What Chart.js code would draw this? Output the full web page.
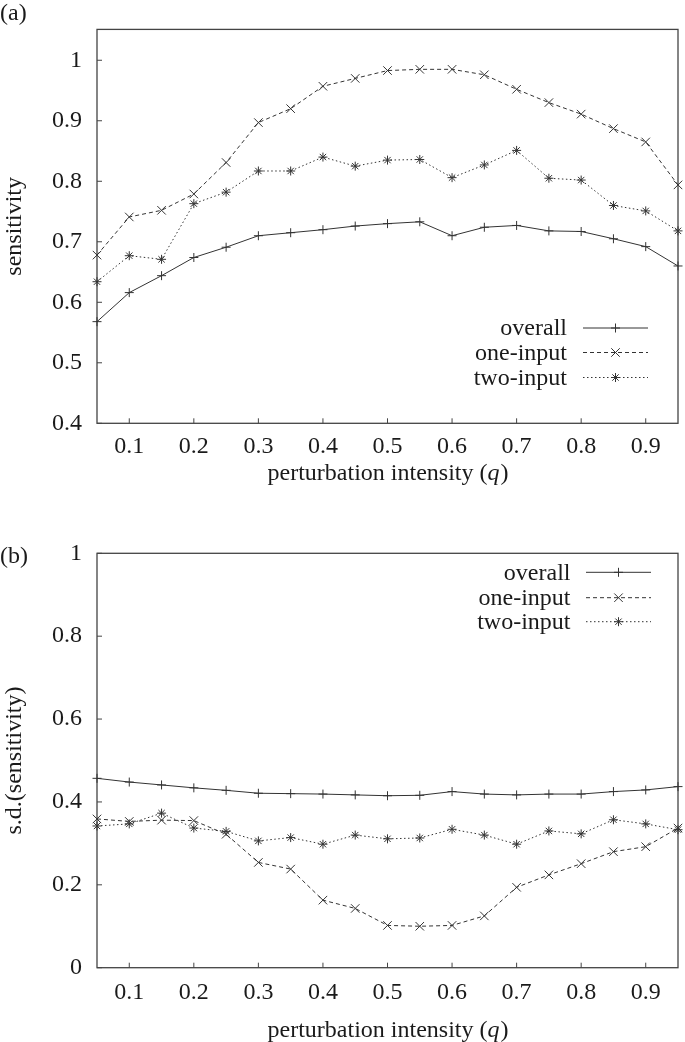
<!DOCTYPE html>
<html>
<head>
<meta charset="utf-8">
<script src="https://cdn.jsdelivr.net/npm/chart.js@4.4.0/dist/chart.umd.min.js"></script>
<style>
  html, body { margin: 0; padding: 0; background: #fff; }
  .panel { position: absolute; left: 0; width: 685px; }
  #wrapA { top: 0; height: 500px; }
  #wrapB { top: 500px; height: 542px; }
</style>
</head>
<body>
<div class="panel" id="wrapA"><canvas id="chartA" width="685" height="500"></canvas></div>
<div class="panel" id="wrapB"><canvas id="chartB" width="685" height="542"></canvas></div>
<script>
// perturbation intensity q
var qValues = [0.05, 0.1, 0.15, 0.2, 0.25, 0.3, 0.35, 0.4, 0.45, 0.5, 0.55, 0.6, 0.65, 0.7, 0.75, 0.8, 0.85, 0.9, 0.95];
var xTicks = [0.1, 0.2, 0.3, 0.4, 0.5, 0.6, 0.7, 0.8, 0.9];
var seriesNames = ["overall", "one-input", "two-input"];

// (a) sensitivity
var overallA = [0.568, 0.616, 0.644, 0.674, 0.691, 0.710, 0.715, 0.720, 0.726, 0.730, 0.733, 0.710, 0.724, 0.727, 0.718, 0.717, 0.705, 0.692, 0.660];
var oneInputA = [0.678, 0.741, 0.752, 0.779, 0.831, 0.897, 0.920, 0.957, 0.970, 0.983, 0.985, 0.985, 0.976, 0.952, 0.930, 0.911, 0.887, 0.865, 0.794];
var twoInputA = [0.634, 0.677, 0.671, 0.763, 0.782, 0.817, 0.817, 0.840, 0.825, 0.835, 0.836, 0.806, 0.827, 0.851, 0.805, 0.802, 0.760, 0.751, 0.718];
var yTicksA = [0.4, 0.5, 0.6, 0.7, 0.8, 0.9, 1];

// (b) s.d.(sensitivity)
var overallB = [0.457, 0.448, 0.441, 0.434, 0.428, 0.421, 0.420, 0.419, 0.417, 0.415, 0.416, 0.425, 0.419, 0.417, 0.419, 0.419, 0.425, 0.429, 0.437];
var oneInputB = [0.359, 0.353, 0.356, 0.355, 0.322, 0.254, 0.238, 0.163, 0.143, 0.102, 0.100, 0.102, 0.125, 0.194, 0.224, 0.251, 0.280, 0.292, 0.337];
var twoInputB = [0.342, 0.347, 0.373, 0.337, 0.329, 0.306, 0.314, 0.298, 0.320, 0.311, 0.313, 0.334, 0.320, 0.298, 0.330, 0.323, 0.357, 0.347, 0.333];
var yTicksB = [0, 0.2, 0.4, 0.6, 0.8, 1];

var FONT = "'Liberation Serif', 'Times New Roman', serif";
var INK = "#1a1a1a";

function pts(ys) {
  return qValues.map(function (q, i) { return { x: q, y: ys[i] }; });
}

var styles = [
  { pointStyle: "cross", radius: 4.5, dash: [] },
  { pointStyle: "crossRot", radius: 6, dash: [4, 3] },
  { pointStyle: "star", radius: 4.5, dash: [1.5, 2.5] }
];

function makeDatasets(a, b, c) {
  return [a, b, c].map(function (ys, i) {
    var s = styles[i];
    return {
      label: seriesNames[i],
      data: pts(ys),
      borderColor: "#333",
      backgroundColor: "#333",
      borderWidth: 1,
      borderDash: s.dash,
      pointStyle: s.pointStyle,
      pointRadius: s.radius,
      pointBorderWidth: 1,
      pointBorderColor: "#333",
      tension: 0,
      clip: false
    };
  });
}

// frame, inward ticks, panel tag, x title, inner legend
var gnuplotLook = {
  id: "gnuplotLook",
  beforeDatasetsDraw: function (chart, args, o) {
    var ctx = chart.ctx, a = chart.chartArea;
    var xs = chart.scales.x, ys = chart.scales.y;
    ctx.save();
    ctx.strokeStyle = "#444";
    ctx.lineWidth = 1.3;
    ctx.strokeRect(a.left, a.top, a.right - a.left, a.bottom - a.top);
    ctx.lineWidth = 1;
    ctx.beginPath();
    xs.ticks.forEach(function (t) {
      var px = xs.getPixelForValue(t.value);
      ctx.moveTo(px, a.bottom); ctx.lineTo(px, a.bottom - 5);
    });
    ys.ticks.forEach(function (t) {
      var py = ys.getPixelForValue(t.value);
      ctx.moveTo(a.left, py); ctx.lineTo(a.left + 5, py);
    });
    ctx.stroke();
    ctx.restore();
  },
  afterDraw: function (chart, args, o) {
    var ctx = chart.ctx, a = chart.chartArea;
    ctx.save();
    ctx.fillStyle = INK;
    ctx.textBaseline = "middle";
    ctx.font = "24px " + FONT;
    ctx.textAlign = "left";
    ctx.fillText(o.tag, 0, o.tagY);

    // x axis title with italic q
    var p1 = "perturbation intensity (", p2 = "q", p3 = ")";
    var up = "24px " + FONT, it = "italic 24px " + FONT;
    ctx.font = up; var w1 = ctx.measureText(p1).width, w3 = ctx.measureText(p3).width;
    ctx.font = it; var w2 = ctx.measureText(p2).width;
    var x0 = (a.left + a.right) / 2 - (w1 + w2 + w3) / 2;
    ctx.font = up; ctx.fillText(p1, x0, o.titleY);
    ctx.font = it; ctx.fillText(p2, x0 + w1, o.titleY);
    ctx.font = up; ctx.fillText(p3, x0 + w1 + w2 + 1, o.titleY);

    // legend
    chart.data.datasets.forEach(function (ds, i) {
      var y = o.legendY[i];
      ctx.font = "24px " + FONT;
      ctx.textAlign = "right";
      ctx.fillStyle = INK;
      ctx.fillText(ds.label, o.legendTextRight, y + 1);
      ctx.strokeStyle = ds.borderColor;
      ctx.lineWidth = 1;
      ctx.setLineDash(ds.borderDash);
      ctx.beginPath();
      ctx.moveTo(o.legendX0, y); ctx.lineTo(o.legendX1, y);
      ctx.stroke();
      ctx.setLineDash([]);
      Chart.helpers.drawPoint(ctx, { pointStyle: ds.pointStyle, radius: ds.pointRadius, rotation: 0, borderWidth: 1 }, (o.legendX0 + o.legendX1) / 2, y);
    });
    ctx.restore();
  }
};

function makeChart(id, datasets, yMin, yMax, yTicks, yTitle, padTop, xAxisH, tickPad, look) {
  return new Chart(document.getElementById(id).getContext("2d"), {
    type: "line",
    data: { datasets: datasets },
    plugins: [gnuplotLook],
    options: {
      responsive: false,
      animation: false,
      layout: { padding: { top: padTop, right: 4.3, left: 0, bottom: 0 } },
      plugins: { legend: { display: false }, tooltip: { enabled: false }, gnuplotLook: look },
      scales: {
        x: {
          type: "linear", min: 0.05, max: 0.95,
          afterBuildTicks: function (s) { s.ticks = xTicks.map(function (v) { return { value: v }; }); },
          afterFit: function (s) { s.height = xAxisH; },
          grid: { display: false, drawTicks: false },
          border: { display: false },
          ticks: { color: INK, font: { family: FONT, size: 24 }, padding: tickPad, maxRotation: 0, autoSkip: false,
            callback: function (v) { return String(+v.toFixed(2)); } }
        },
        y: {
          min: yMin, max: yMax,
          afterBuildTicks: function (s) { s.ticks = yTicks.map(function (v) { return { value: v }; }); },
          afterFit: function (s) { s.width = 97; },
          grid: { display: false, drawTicks: false },
          border: { display: false },
          ticks: { color: INK, font: { family: FONT, size: 24 }, padding: 15,
            callback: function (v) { return String(+v.toFixed(2)); } },
          title: { display: true, text: yTitle, color: INK, font: { family: FONT, size: 24, lineHeight: 1 }, padding: { top: 3, bottom: 0 } }
        }
      }
    }
  });
}

makeChart("chartA", makeDatasets(overallA, oneInputA, twoInputA), 0.4, 1.051, yTicksA, "sensitivity", 9.3, 76.7, 9,
  { tag: "(a)", tagY: 14, titleY: 474, legendTextRight: 567, legendX0: 583, legendX1: 648, legendY: [328, 352.5, 377.5] });

makeChart("chartB", makeDatasets(overallB, oneInputB, twoInputB), 0, 1, yTicksB, "s.d.(sensitivity)", 53.3, 74.3, 11,
  { tag: "(b)", tagY: 57, titleY: 531, legendTextRight: 570.5, legendX0: 586, legendX1: 651, legendY: [572.3 - 500, 597.7 - 500, 621.7 - 500] });
</script>
</body>
</html>
